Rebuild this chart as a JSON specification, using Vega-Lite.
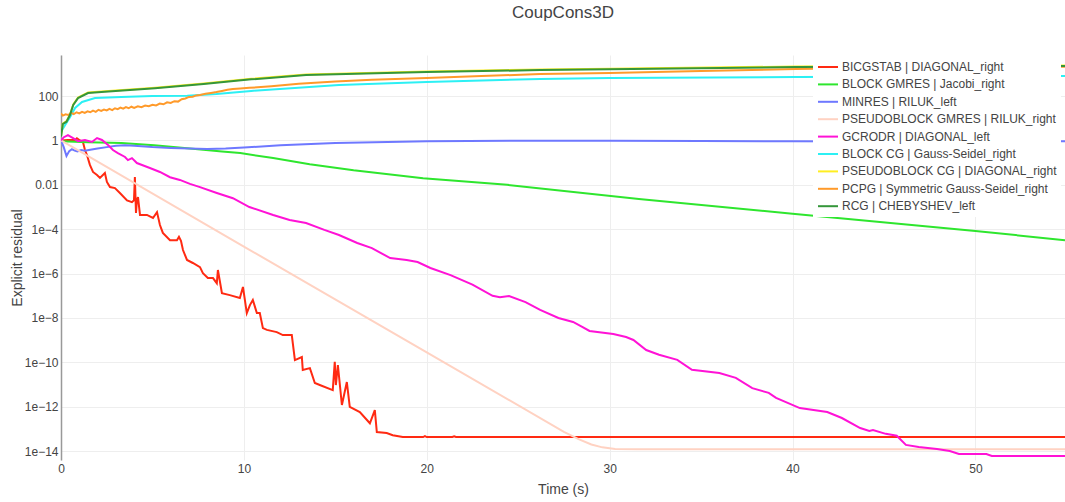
{
  "$schema": "https://vega.github.io/schema/vega-lite/v6.json",
  "width": 1004,
  "height": 405,
  "autosize": {"type": "none"},
  "padding": {"left": 61, "top": 55, "right": 0, "bottom": 42},
  "background": "white",
  "title": {"text": "CoupCons3D", "fontSize": 17, "font": "Liberation Sans", "fontWeight": "normal", "color": "#444444", "anchor": "middle", "offset": 30},
  "config": {"view": {"stroke": null}},
  "data": {"values": [
    {"s":"BICGSTAB | DIAGONAL_right","t":0,"r":1},{"s":"BICGSTAB | DIAGONAL_right","t":0.38,"r":1.05},{"s":"BICGSTAB | DIAGONAL_right","t":0.77,"r":1.05},{"s":"BICGSTAB | DIAGONAL_right","t":0.87,"r":1.26},{"s":"BICGSTAB | DIAGONAL_right","t":1.04,"r":1.0},{"s":"BICGSTAB | DIAGONAL_right","t":1.2,"r":0.85},{"s":"BICGSTAB | DIAGONAL_right","t":1.31,"r":0.37},{"s":"BICGSTAB | DIAGONAL_right","t":1.42,"r":0.22},{"s":"BICGSTAB | DIAGONAL_right","t":1.58,"r":0.079},{"s":"BICGSTAB | DIAGONAL_right","t":1.75,"r":0.038},{"s":"BICGSTAB | DIAGONAL_right","t":1.97,"r":0.0275},{"s":"BICGSTAB | DIAGONAL_right","t":2.13,"r":0.0204},{"s":"BICGSTAB | DIAGONAL_right","t":2.4,"r":0.034},{"s":"BICGSTAB | DIAGONAL_right","t":2.51,"r":0.0135},{"s":"BICGSTAB | DIAGONAL_right","t":2.68,"r":0.0079},{"s":"BICGSTAB | DIAGONAL_right","t":2.95,"r":0.0071},{"s":"BICGSTAB | DIAGONAL_right","t":3.22,"r":0.0043},{"s":"BICGSTAB | DIAGONAL_right","t":3.61,"r":0.002},{"s":"BICGSTAB | DIAGONAL_right","t":3.88,"r":0.00166},{"s":"BICGSTAB | DIAGONAL_right","t":3.99,"r":0.002},{"s":"BICGSTAB | DIAGONAL_right","t":4.04,"r":0.0224},{"s":"BICGSTAB | DIAGONAL_right","t":4.1,"r":0.00054},{"s":"BICGSTAB | DIAGONAL_right","t":4.15,"r":0.002},{"s":"BICGSTAB | DIAGONAL_right","t":4.21,"r":0.0028},{"s":"BICGSTAB | DIAGONAL_right","t":4.32,"r":0.00044},{"s":"BICGSTAB | DIAGONAL_right","t":4.7,"r":0.00044},{"s":"BICGSTAB | DIAGONAL_right","t":5.03,"r":0.00032},{"s":"BICGSTAB | DIAGONAL_right","t":5.25,"r":0.00059},{"s":"BICGSTAB | DIAGONAL_right","t":5.41,"r":0.000155},{"s":"BICGSTAB | DIAGONAL_right","t":5.57,"r":6.8e-5},{"s":"BICGSTAB | DIAGONAL_right","t":5.96,"r":3.2e-5},{"s":"BICGSTAB | DIAGONAL_right","t":6.34,"r":3.2e-5},{"s":"BICGSTAB | DIAGONAL_right","t":6.45,"r":4.5e-5},{"s":"BICGSTAB | DIAGONAL_right","t":6.56,"r":3.0e-5},{"s":"BICGSTAB | DIAGONAL_right","t":6.67,"r":1.15e-5},{"s":"BICGSTAB | DIAGONAL_right","t":6.89,"r":4.1e-6},{"s":"BICGSTAB | DIAGONAL_right","t":7.21,"r":3.0e-6},{"s":"BICGSTAB | DIAGONAL_right","t":7.6,"r":1.95e-6},{"s":"BICGSTAB | DIAGONAL_right","t":7.76,"r":1.05e-6},{"s":"BICGSTAB | DIAGONAL_right","t":8.03,"r":6.3e-7},{"s":"BICGSTAB | DIAGONAL_right","t":8.31,"r":6.3e-7},{"s":"BICGSTAB | DIAGONAL_right","t":8.52,"r":3.7e-7},{"s":"BICGSTAB | DIAGONAL_right","t":8.58,"r":1.45e-6},{"s":"BICGSTAB | DIAGONAL_right","t":8.8,"r":1.3e-7},{"s":"BICGSTAB | DIAGONAL_right","t":9.23,"r":1.07e-7},{"s":"BICGSTAB | DIAGONAL_right","t":9.78,"r":7.9e-8},{"s":"BICGSTAB | DIAGONAL_right","t":9.95,"r":2.5e-7},{"s":"BICGSTAB | DIAGONAL_right","t":10.16,"r":1.66e-8},{"s":"BICGSTAB | DIAGONAL_right","t":10.33,"r":3.8e-8},{"s":"BICGSTAB | DIAGONAL_right","t":10.49,"r":6.5e-8},{"s":"BICGSTAB | DIAGONAL_right","t":10.71,"r":1.66e-8},{"s":"BICGSTAB | DIAGONAL_right","t":10.87,"r":1.66e-8},{"s":"BICGSTAB | DIAGONAL_right","t":11.04,"r":3.5e-9},{"s":"BICGSTAB | DIAGONAL_right","t":11.26,"r":2.9e-9},{"s":"BICGSTAB | DIAGONAL_right","t":11.8,"r":2.3e-9},{"s":"BICGSTAB | DIAGONAL_right","t":12.13,"r":1.7e-9},{"s":"BICGSTAB | DIAGONAL_right","t":12.62,"r":1.7e-9},{"s":"BICGSTAB | DIAGONAL_right","t":12.79,"r":1.26e-10},{"s":"BICGSTAB | DIAGONAL_right","t":13.17,"r":1.74e-10},{"s":"BICGSTAB | DIAGONAL_right","t":13.22,"r":4.5e-11},{"s":"BICGSTAB | DIAGONAL_right","t":13.61,"r":5.5e-11},{"s":"BICGSTAB | DIAGONAL_right","t":13.88,"r":1.17e-11},{"s":"BICGSTAB | DIAGONAL_right","t":14.15,"r":9.5e-12},{"s":"BICGSTAB | DIAGONAL_right","t":14.86,"r":5.6e-12},{"s":"BICGSTAB | DIAGONAL_right","t":14.97,"r":1.05e-10},{"s":"BICGSTAB | DIAGONAL_right","t":15.03,"r":9.5e-12},{"s":"BICGSTAB | DIAGONAL_right","t":15.14,"r":7.6e-11},{"s":"BICGSTAB | DIAGONAL_right","t":15.36,"r":1.2e-12},{"s":"BICGSTAB | DIAGONAL_right","t":15.63,"r":1.3e-11},{"s":"BICGSTAB | DIAGONAL_right","t":15.79,"r":9.8e-13},{"s":"BICGSTAB | DIAGONAL_right","t":16.34,"r":5.8e-13},{"s":"BICGSTAB | DIAGONAL_right","t":16.89,"r":1.8e-13},{"s":"BICGSTAB | DIAGONAL_right","t":17.16,"r":7.1e-13},{"s":"BICGSTAB | DIAGONAL_right","t":17.27,"r":7.2e-14},{"s":"BICGSTAB | DIAGONAL_right","t":17.81,"r":6.5e-14},{"s":"BICGSTAB | DIAGONAL_right","t":18.14,"r":5.2e-14},{"s":"BICGSTAB | DIAGONAL_right","t":18.69,"r":4.3e-14},{"s":"BICGSTAB | DIAGONAL_right","t":19.8,"r":4.3e-14},{"s":"BICGSTAB | DIAGONAL_right","t":19.9,"r":4.7e-14},{"s":"BICGSTAB | DIAGONAL_right","t":20.0,"r":4.3e-14},{"s":"BICGSTAB | DIAGONAL_right","t":21.4,"r":4.3e-14},{"s":"BICGSTAB | DIAGONAL_right","t":21.5,"r":4.6e-14},{"s":"BICGSTAB | DIAGONAL_right","t":21.6,"r":4.3e-14},{"s":"BICGSTAB | DIAGONAL_right","t":54.9,"r":4.3e-14},
    {"s":"BLOCK GMRES | Jacobi_right","t":0,"r":0.92},{"s":"BLOCK GMRES | Jacobi_right","t":1.5,"r":0.82},{"s":"BLOCK GMRES | Jacobi_right","t":3.3,"r":0.76},{"s":"BLOCK GMRES | Jacobi_right","t":5.1,"r":0.6},{"s":"BLOCK GMRES | Jacobi_right","t":6.9,"r":0.45},{"s":"BLOCK GMRES | Jacobi_right","t":8.8,"r":0.32},{"s":"BLOCK GMRES | Jacobi_right","t":9.8,"r":0.27},{"s":"BLOCK GMRES | Jacobi_right","t":11.6,"r":0.16},{"s":"BLOCK GMRES | Jacobi_right","t":13.6,"r":0.085},{"s":"BLOCK GMRES | Jacobi_right","t":16,"r":0.045},{"s":"BLOCK GMRES | Jacobi_right","t":19.8,"r":0.02},{"s":"BLOCK GMRES | Jacobi_right","t":24.4,"r":0.01},{"s":"BLOCK GMRES | Jacobi_right","t":31.6,"r":0.0023},{"s":"BLOCK GMRES | Jacobi_right","t":40,"r":0.0005},{"s":"BLOCK GMRES | Jacobi_right","t":50,"r":8.3e-5},{"s":"BLOCK GMRES | Jacobi_right","t":54.9,"r":3.2e-5},
    {"s":"MINRES | RILUK_left","t":0,"r":1},{"s":"MINRES | RILUK_left","t":0.15,"r":0.5},{"s":"MINRES | RILUK_left","t":0.3,"r":0.2},{"s":"MINRES | RILUK_left","t":0.45,"r":0.33},{"s":"MINRES | RILUK_left","t":0.6,"r":0.4},{"s":"MINRES | RILUK_left","t":0.75,"r":0.35},{"s":"MINRES | RILUK_left","t":0.9,"r":0.32},{"s":"MINRES | RILUK_left","t":1.1,"r":0.37},{"s":"MINRES | RILUK_left","t":1.3,"r":0.34},{"s":"MINRES | RILUK_left","t":1.6,"r":0.38},{"s":"MINRES | RILUK_left","t":2,"r":0.43},{"s":"MINRES | RILUK_left","t":2.5,"r":0.5},{"s":"MINRES | RILUK_left","t":3,"r":0.58},{"s":"MINRES | RILUK_left","t":3.5,"r":0.6},{"s":"MINRES | RILUK_left","t":4,"r":0.57},{"s":"MINRES | RILUK_left","t":5,"r":0.5},{"s":"MINRES | RILUK_left","t":6,"r":0.46},{"s":"MINRES | RILUK_left","t":7,"r":0.43},{"s":"MINRES | RILUK_left","t":8,"r":0.41},{"s":"MINRES | RILUK_left","t":9,"r":0.43},{"s":"MINRES | RILUK_left","t":10,"r":0.48},{"s":"MINRES | RILUK_left","t":12,"r":0.6},{"s":"MINRES | RILUK_left","t":15,"r":0.76},{"s":"MINRES | RILUK_left","t":20,"r":0.93},{"s":"MINRES | RILUK_left","t":25,"r":0.98},{"s":"MINRES | RILUK_left","t":30,"r":0.98},{"s":"MINRES | RILUK_left","t":35,"r":0.95},{"s":"MINRES | RILUK_left","t":40,"r":0.92},{"s":"MINRES | RILUK_left","t":45,"r":0.9},{"s":"MINRES | RILUK_left","t":50,"r":0.91},{"s":"MINRES | RILUK_left","t":54.9,"r":0.92},
    {"s":"PSEUDOBLOCK GMRES | RILUK_right","t":0,"r":1},{"s":"PSEUDOBLOCK GMRES | RILUK_right","t":10,"r":1.66e-5},{"s":"PSEUDOBLOCK GMRES | RILUK_right","t":20,"r":2.8e-10},{"s":"PSEUDOBLOCK GMRES | RILUK_right","t":27.5,"r":7.4e-14},{"s":"PSEUDOBLOCK GMRES | RILUK_right","t":28.3,"r":3.5e-14},{"s":"PSEUDOBLOCK GMRES | RILUK_right","t":29,"r":2.0e-14},{"s":"PSEUDOBLOCK GMRES | RILUK_right","t":29.6,"r":1.48e-14},{"s":"PSEUDOBLOCK GMRES | RILUK_right","t":30.3,"r":1.26e-14},{"s":"PSEUDOBLOCK GMRES | RILUK_right","t":31.5,"r":1.2e-14},{"s":"PSEUDOBLOCK GMRES | RILUK_right","t":54.9,"r":1.2e-14},
    {"s":"GCRODR | DIAGONAL_left","t":0,"r":1},{"s":"GCRODR | DIAGONAL_left","t":0.16,"r":1.4},{"s":"GCRODR | DIAGONAL_left","t":0.38,"r":1.74},{"s":"GCRODR | DIAGONAL_left","t":0.66,"r":1.28},{"s":"GCRODR | DIAGONAL_left","t":0.93,"r":0.93},{"s":"GCRODR | DIAGONAL_left","t":1.31,"r":1.05},{"s":"GCRODR | DIAGONAL_left","t":1.69,"r":0.85},{"s":"GCRODR | DIAGONAL_left","t":1.97,"r":1.28},{"s":"GCRODR | DIAGONAL_left","t":2.24,"r":1.05},{"s":"GCRODR | DIAGONAL_left","t":2.57,"r":0.63},{"s":"GCRODR | DIAGONAL_left","t":2.84,"r":0.37},{"s":"GCRODR | DIAGONAL_left","t":3.11,"r":0.27},{"s":"GCRODR | DIAGONAL_left","t":3.5,"r":0.18},{"s":"GCRODR | DIAGONAL_left","t":3.66,"r":0.13},{"s":"GCRODR | DIAGONAL_left","t":3.88,"r":0.16},{"s":"GCRODR | DIAGONAL_left","t":4.15,"r":0.096},{"s":"GCRODR | DIAGONAL_left","t":4.43,"r":0.078},{"s":"GCRODR | DIAGONAL_left","t":4.86,"r":0.057},{"s":"GCRODR | DIAGONAL_left","t":5.41,"r":0.038},{"s":"GCRODR | DIAGONAL_left","t":5.96,"r":0.022},{"s":"GCRODR | DIAGONAL_left","t":6.5,"r":0.0166},{"s":"GCRODR | DIAGONAL_left","t":7.05,"r":0.011},{"s":"GCRODR | DIAGONAL_left","t":7.6,"r":0.0079},{"s":"GCRODR | DIAGONAL_left","t":8.52,"r":0.0043},{"s":"GCRODR | DIAGONAL_left","t":9.4,"r":0.0025},{"s":"GCRODR | DIAGONAL_left","t":10.3,"r":0.001},{"s":"GCRODR | DIAGONAL_left","t":11.6,"r":0.00044},{"s":"GCRODR | DIAGONAL_left","t":12.5,"r":0.00026},{"s":"GCRODR | DIAGONAL_left","t":13.4,"r":0.00019},{"s":"GCRODR | DIAGONAL_left","t":14.4,"r":9.3e-5},{"s":"GCRODR | DIAGONAL_left","t":15.2,"r":5.5e-5},{"s":"GCRODR | DIAGONAL_left","t":16.2,"r":2.4e-5},{"s":"GCRODR | DIAGONAL_left","t":17,"r":1.4e-5},{"s":"GCRODR | DIAGONAL_left","t":18,"r":5.0e-6},{"s":"GCRODR | DIAGONAL_left","t":18.9,"r":4.1e-6},{"s":"GCRODR | DIAGONAL_left","t":19.5,"r":3.3e-6},{"s":"GCRODR | DIAGONAL_left","t":20.2,"r":1.78e-6},{"s":"GCRODR | DIAGONAL_left","t":21.3,"r":8.5e-7},{"s":"GCRODR | DIAGONAL_left","t":22.5,"r":3.2e-7},{"s":"GCRODR | DIAGONAL_left","t":23.6,"r":1.0e-7},{"s":"GCRODR | DIAGONAL_left","t":24,"r":8.7e-8},{"s":"GCRODR | DIAGONAL_left","t":24.5,"r":9.8e-8},{"s":"GCRODR | DIAGONAL_left","t":25.4,"r":5.2e-8},{"s":"GCRODR | DIAGONAL_left","t":26.2,"r":2.3e-8},{"s":"GCRODR | DIAGONAL_left","t":27.2,"r":1.0e-8},{"s":"GCRODR | DIAGONAL_left","t":28,"r":6.6e-9},{"s":"GCRODR | DIAGONAL_left","t":28.5,"r":4.0e-9},{"s":"GCRODR | DIAGONAL_left","t":28.9,"r":2.6e-9},{"s":"GCRODR | DIAGONAL_left","t":30.2,"r":1.9e-9},{"s":"GCRODR | DIAGONAL_left","t":30.9,"r":1.38e-9},{"s":"GCRODR | DIAGONAL_left","t":31.3,"r":1.02e-9},{"s":"GCRODR | DIAGONAL_left","t":32,"r":3.6e-10},{"s":"GCRODR | DIAGONAL_left","t":32.7,"r":2.2e-10},{"s":"GCRODR | DIAGONAL_left","t":33.7,"r":1.3e-10},{"s":"GCRODR | DIAGONAL_left","t":34.5,"r":4.6e-11},{"s":"GCRODR | DIAGONAL_left","t":36,"r":3.3e-11},{"s":"GCRODR | DIAGONAL_left","t":36.9,"r":2.0e-11},{"s":"GCRODR | DIAGONAL_left","t":37.8,"r":6.9e-12},{"s":"GCRODR | DIAGONAL_left","t":38.7,"r":4.2e-12},{"s":"GCRODR | DIAGONAL_left","t":39.1,"r":2.5e-12},{"s":"GCRODR | DIAGONAL_left","t":40.4,"r":8.7e-13},{"s":"GCRODR | DIAGONAL_left","t":41.9,"r":5.8e-13},{"s":"GCRODR | DIAGONAL_left","t":42.7,"r":3.1e-13},{"s":"GCRODR | DIAGONAL_left","t":43.7,"r":1.1e-13},{"s":"GCRODR | DIAGONAL_left","t":44.2,"r":8.1e-14},{"s":"GCRODR | DIAGONAL_left","t":44.4,"r":8.9e-14},{"s":"GCRODR | DIAGONAL_left","t":45.1,"r":6.0e-14},{"s":"GCRODR | DIAGONAL_left","t":45.7,"r":4.9e-14},{"s":"GCRODR | DIAGONAL_left","t":46.2,"r":1.9e-14},{"s":"GCRODR | DIAGONAL_left","t":46.9,"r":1.55e-14},{"s":"GCRODR | DIAGONAL_left","t":47.9,"r":1.26e-14},{"s":"GCRODR | DIAGONAL_left","t":48.6,"r":1.02e-14},{"s":"GCRODR | DIAGONAL_left","t":49.1,"r":7.4e-15},{"s":"GCRODR | DIAGONAL_left","t":50.6,"r":7.4e-15},{"s":"GCRODR | DIAGONAL_left","t":50.9,"r":6.0e-15},{"s":"GCRODR | DIAGONAL_left","t":54.9,"r":6.0e-15},
    {"s":"BLOCK CG | Gauss-Seidel_right","t":0,"r":2.5},{"s":"BLOCK CG | Gauss-Seidel_right","t":0.22,"r":4.9},{"s":"BLOCK CG | Gauss-Seidel_right","t":0.49,"r":11},{"s":"BLOCK CG | Gauss-Seidel_right","t":0.77,"r":29},{"s":"BLOCK CG | Gauss-Seidel_right","t":1.15,"r":54},{"s":"BLOCK CG | Gauss-Seidel_right","t":1.86,"r":81},{"s":"BLOCK CG | Gauss-Seidel_right","t":3.3,"r":91},{"s":"BLOCK CG | Gauss-Seidel_right","t":5,"r":100},{"s":"BLOCK CG | Gauss-Seidel_right","t":6.9,"r":104},{"s":"BLOCK CG | Gauss-Seidel_right","t":8.5,"r":125},{"s":"BLOCK CG | Gauss-Seidel_right","t":10.4,"r":170},{"s":"BLOCK CG | Gauss-Seidel_right","t":15.2,"r":316},{"s":"BLOCK CG | Gauss-Seidel_right","t":20,"r":435},{"s":"BLOCK CG | Gauss-Seidel_right","t":26.2,"r":590},{"s":"BLOCK CG | Gauss-Seidel_right","t":30,"r":650},{"s":"BLOCK CG | Gauss-Seidel_right","t":40.2,"r":720},{"s":"BLOCK CG | Gauss-Seidel_right","t":54.9,"r":800},
    {"s":"PSEUDOBLOCK CG | DIAGONAL_right","t":0,"r":1.6},{"s":"PSEUDOBLOCK CG | DIAGONAL_right","t":0.1,"r":5.8},{"s":"PSEUDOBLOCK CG | DIAGONAL_right","t":0.3,"r":7.4},{"s":"PSEUDOBLOCK CG | DIAGONAL_right","t":0.49,"r":14.8},{"s":"PSEUDOBLOCK CG | DIAGONAL_right","t":0.67,"r":42},{"s":"PSEUDOBLOCK CG | DIAGONAL_right","t":0.93,"r":86},{"s":"PSEUDOBLOCK CG | DIAGONAL_right","t":1.48,"r":145},{"s":"PSEUDOBLOCK CG | DIAGONAL_right","t":2.4,"r":165},{"s":"PSEUDOBLOCK CG | DIAGONAL_right","t":5.14,"r":237},{"s":"PSEUDOBLOCK CG | DIAGONAL_right","t":7.8,"r":368},{"s":"PSEUDOBLOCK CG | DIAGONAL_right","t":10.4,"r":599},{"s":"PSEUDOBLOCK CG | DIAGONAL_right","t":13.4,"r":943},{"s":"PSEUDOBLOCK CG | DIAGONAL_right","t":20,"r":1272},{"s":"PSEUDOBLOCK CG | DIAGONAL_right","t":26.2,"r":1569},{"s":"PSEUDOBLOCK CG | DIAGONAL_right","t":30,"r":1717},{"s":"PSEUDOBLOCK CG | DIAGONAL_right","t":40.2,"r":2152},{"s":"PSEUDOBLOCK CG | DIAGONAL_right","t":54.9,"r":2385},
    {"s":"PCPG | Symmetric Gauss-Seidel_right","t":0,"r":16.6},{"s":"PCPG | Symmetric Gauss-Seidel_right","t":0.1,"r":13.2},{"s":"PCPG | Symmetric Gauss-Seidel_right","t":0.25,"r":15.1},{"s":"PCPG | Symmetric Gauss-Seidel_right","t":0.4,"r":14.1},{"s":"PCPG | Symmetric Gauss-Seidel_right","t":0.55,"r":17.4},{"s":"PCPG | Symmetric Gauss-Seidel_right","t":0.7,"r":15.5},{"s":"PCPG | Symmetric Gauss-Seidel_right","t":0.85,"r":18.6},{"s":"PCPG | Symmetric Gauss-Seidel_right","t":1.0,"r":16.6},{"s":"PCPG | Symmetric Gauss-Seidel_right","t":1.15,"r":19.5},{"s":"PCPG | Symmetric Gauss-Seidel_right","t":1.3,"r":17.4},{"s":"PCPG | Symmetric Gauss-Seidel_right","t":1.45,"r":20.4},{"s":"PCPG | Symmetric Gauss-Seidel_right","t":1.6,"r":18.6},{"s":"PCPG | Symmetric Gauss-Seidel_right","t":1.75,"r":21.9},{"s":"PCPG | Symmetric Gauss-Seidel_right","t":1.9,"r":19.5},{"s":"PCPG | Symmetric Gauss-Seidel_right","t":2.05,"r":24.0},{"s":"PCPG | Symmetric Gauss-Seidel_right","t":2.2,"r":21.4},{"s":"PCPG | Symmetric Gauss-Seidel_right","t":2.35,"r":24.5},{"s":"PCPG | Symmetric Gauss-Seidel_right","t":2.5,"r":22.4},{"s":"PCPG | Symmetric Gauss-Seidel_right","t":2.65,"r":26.3},{"s":"PCPG | Symmetric Gauss-Seidel_right","t":2.8,"r":23.4},{"s":"PCPG | Symmetric Gauss-Seidel_right","t":2.95,"r":28.2},{"s":"PCPG | Symmetric Gauss-Seidel_right","t":3.1,"r":25.7},{"s":"PCPG | Symmetric Gauss-Seidel_right","t":3.25,"r":30.2},{"s":"PCPG | Symmetric Gauss-Seidel_right","t":3.4,"r":26.9},{"s":"PCPG | Symmetric Gauss-Seidel_right","t":3.55,"r":31.6},{"s":"PCPG | Symmetric Gauss-Seidel_right","t":3.7,"r":28.2},{"s":"PCPG | Symmetric Gauss-Seidel_right","t":3.85,"r":33.1},{"s":"PCPG | Symmetric Gauss-Seidel_right","t":4.0,"r":29.5},{"s":"PCPG | Symmetric Gauss-Seidel_right","t":4.2,"r":34.7},{"s":"PCPG | Symmetric Gauss-Seidel_right","t":4.4,"r":31.6},{"s":"PCPG | Symmetric Gauss-Seidel_right","t":4.6,"r":37.2},{"s":"PCPG | Symmetric Gauss-Seidel_right","t":4.8,"r":34.7},{"s":"PCPG | Symmetric Gauss-Seidel_right","t":5.0,"r":40.7},{"s":"PCPG | Symmetric Gauss-Seidel_right","t":5.2,"r":38.0},{"s":"PCPG | Symmetric Gauss-Seidel_right","t":5.4,"r":45.7},{"s":"PCPG | Symmetric Gauss-Seidel_right","t":5.6,"r":42.7},{"s":"PCPG | Symmetric Gauss-Seidel_right","t":5.8,"r":52.5},{"s":"PCPG | Symmetric Gauss-Seidel_right","t":6.0,"r":49.0},{"s":"PCPG | Symmetric Gauss-Seidel_right","t":6.2,"r":58.9},{"s":"PCPG | Symmetric Gauss-Seidel_right","t":6.4,"r":56.2},{"s":"PCPG | Symmetric Gauss-Seidel_right","t":6.6,"r":72.4},{"s":"PCPG | Symmetric Gauss-Seidel_right","t":6.8,"r":77.6},{"s":"PCPG | Symmetric Gauss-Seidel_right","t":7.0,"r":91.2},{"s":"PCPG | Symmetric Gauss-Seidel_right","t":7.2,"r":93.3},{"s":"PCPG | Symmetric Gauss-Seidel_right","t":7.4,"r":107},{"s":"PCPG | Symmetric Gauss-Seidel_right","t":7.6,"r":112},{"s":"PCPG | Symmetric Gauss-Seidel_right","t":7.9,"r":126},{"s":"PCPG | Symmetric Gauss-Seidel_right","t":8.2,"r":138},{"s":"PCPG | Symmetric Gauss-Seidel_right","t":8.5,"r":151},{"s":"PCPG | Symmetric Gauss-Seidel_right","t":8.8,"r":170},{"s":"PCPG | Symmetric Gauss-Seidel_right","t":9.1,"r":191},{"s":"PCPG | Symmetric Gauss-Seidel_right","t":9.4,"r":209},{"s":"PCPG | Symmetric Gauss-Seidel_right","t":9.8,"r":219},{"s":"PCPG | Symmetric Gauss-Seidel_right","t":10.3,"r":234},{"s":"PCPG | Symmetric Gauss-Seidel_right","t":11.5,"r":275},{"s":"PCPG | Symmetric Gauss-Seidel_right","t":13,"r":355},{"s":"PCPG | Symmetric Gauss-Seidel_right","t":15,"r":457},{"s":"PCPG | Symmetric Gauss-Seidel_right","t":17,"r":537},{"s":"PCPG | Symmetric Gauss-Seidel_right","t":20,"r":646},{"s":"PCPG | Symmetric Gauss-Seidel_right","t":23,"r":794},{"s":"PCPG | Symmetric Gauss-Seidel_right","t":26.2,"r":977},{"s":"PCPG | Symmetric Gauss-Seidel_right","t":30,"r":1096},{"s":"PCPG | Symmetric Gauss-Seidel_right","t":35,"r":1349},{"s":"PCPG | Symmetric Gauss-Seidel_right","t":40.2,"r":1660},{"s":"PCPG | Symmetric Gauss-Seidel_right","t":45,"r":1862},{"s":"PCPG | Symmetric Gauss-Seidel_right","t":50,"r":1995},{"s":"PCPG | Symmetric Gauss-Seidel_right","t":54.9,"r":2089},
    {"s":"RCG | CHEBYSHEV_left","t":0,"r":1.5},{"s":"RCG | CHEBYSHEV_left","t":0.1,"r":5.5},{"s":"RCG | CHEBYSHEV_left","t":0.3,"r":7},{"s":"RCG | CHEBYSHEV_left","t":0.49,"r":14},{"s":"RCG | CHEBYSHEV_left","t":0.67,"r":40},{"s":"RCG | CHEBYSHEV_left","t":0.93,"r":81},{"s":"RCG | CHEBYSHEV_left","t":1.48,"r":137},{"s":"RCG | CHEBYSHEV_left","t":2.4,"r":156},{"s":"RCG | CHEBYSHEV_left","t":5.14,"r":224},{"s":"RCG | CHEBYSHEV_left","t":7.8,"r":347},{"s":"RCG | CHEBYSHEV_left","t":10.4,"r":565},{"s":"RCG | CHEBYSHEV_left","t":13.4,"r":890},{"s":"RCG | CHEBYSHEV_left","t":20,"r":1200},{"s":"RCG | CHEBYSHEV_left","t":26.2,"r":1480},{"s":"RCG | CHEBYSHEV_left","t":30,"r":1620},{"s":"RCG | CHEBYSHEV_left","t":40.2,"r":2030},{"s":"RCG | CHEBYSHEV_left","t":54.9,"r":2250}
  ]},
  "mark": {"type": "line", "strokeWidth": 2, "clip": true},
  "encoding": {
    "x": {"field": "t", "type": "quantitative", "title": "Time (s)",
      "scale": {"domain": [0, 54.9], "nice": false, "zero": false},
      "axis": {"values": [0, 10, 20, 30, 40, 50], "grid": true, "gridColor": "#eeeeee", "domain": false, "ticks": false, "labelFlush": false, "labelPadding": 3, "labelFont": "Liberation Sans", "labelFontSize": 12, "labelColor": "#444444", "titleFont": "Liberation Sans", "titleFontSize": 14, "titleFontWeight": "normal", "titleColor": "#444444", "titlePadding": 8}},
    "y": {"field": "r", "type": "quantitative", "title": "Explicit residual",
      "scale": {"type": "log", "domain": [3.98e-15, 7.08e3], "nice": false},
      "axis": {"values": [1e-14, 1e-12, 1e-10, 1e-8, 1e-6, 1e-4, 0.01, 1, 100], "labelExpr": "datum.value >= 0.01 ? format(datum.value, '~r') : '1e\u2212' + format(-log(datum.value) / LN10, '.0f')", "grid": true, "gridColor": "#eeeeee", "domain": true, "domainColor": "#999999", "domainWidth": 1.5, "ticks": false, "labelFlush": false, "labelPadding": 3, "labelFont": "Liberation Sans", "labelFontSize": 12, "labelColor": "#444444", "titleFont": "Liberation Sans", "titleFontSize": 14, "titleFontWeight": "normal", "titleColor": "#444444", "titlePadding": 0}},
    "color": {"field": "s", "type": "nominal", "sort": null,
      "scale": {"domain": ["BICGSTAB | DIAGONAL_right", "BLOCK GMRES | Jacobi_right", "MINRES | RILUK_left", "PSEUDOBLOCK GMRES | RILUK_right", "GCRODR | DIAGONAL_left", "BLOCK CG | Gauss-Seidel_right", "PSEUDOBLOCK CG | DIAGONAL_right", "PCPG | Symmetric Gauss-Seidel_right", "RCG | CHEBYSHEV_left"],
        "range": ["#ff2a12", "#2ee62e", "#6e78ff", "#ffd2c2", "#ff12d6", "#2cf0f4", "#ffee22", "#ff9a2a", "#35963a"]},
      "legend": {"orient": "none", "legendX": 752, "legendY": -3, "title": null, "symbolType": "stroke", "symbolStrokeWidth": 2, "symbolSize": 400, "labelFont": "Liberation Sans", "labelFontSize": 12, "labelColor": "#444444", "fillColor": "white", "padding": 4, "rowPadding": 0.4, "labelOffset": 3, "labelLimit": 300}}
  }
}
